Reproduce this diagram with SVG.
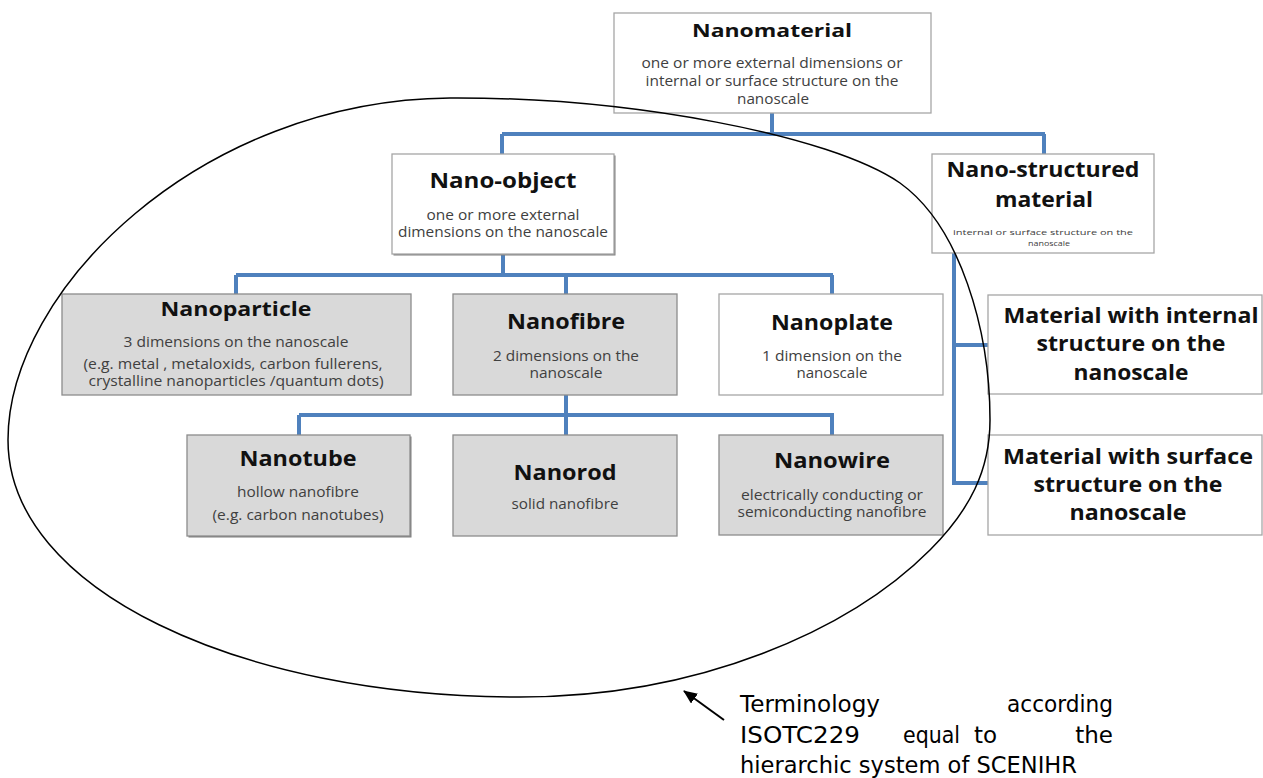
<svg xmlns="http://www.w3.org/2000/svg" width="1263" height="778" viewBox="0 0 1263 778">
<defs>
<style>
.bw{fill:#ffffff;stroke:#a6a6a6;stroke-width:1.3}
.bg{fill:#d9d9d9;stroke:#8c8c8c;stroke-width:1.3}
.sh{fill:#7f7f7f}
.t{font-family:"Open Sans","Liberation Sans",sans-serif;font-weight:bold;fill:#111;text-anchor:middle}
.s{font-family:"Open Sans","Liberation Sans",sans-serif;fill:#404040;text-anchor:middle;font-size:14px}
.c{fill:none;stroke:#4f81bd;stroke-width:4}
.a{font-family:"DejaVu Sans","Liberation Sans",sans-serif;font-size:23px;fill:#000}
</style>
<marker id="ah" markerWidth="14" markerHeight="12" refX="13" refY="6" orient="auto" markerUnits="userSpaceOnUse">
<path d="M0,0 L14,6 L0,12 z" fill="#000"/>
</marker>
</defs>
<rect width="1263" height="778" fill="#fff"/>

<g id="connectors">
<path class="c" d="M772,113 V134 M502,134 H1045 M502,134 V154 M1044,134 V154"/>
<path class="c" d="M503,254 V275 M236,275 H833 M236,275 V294 M566,275 V294 M832,275 V294"/>
<path class="c" d="M566,395 V435 M299,415 H834 M299,415 V435 M832,415 V435"/>
<path class="c" d="M954,253 V483 H988 M954,345 H988"/>
</g>

<g id="nanomaterial">
<rect class="bw" x="614" y="13" width="317" height="100"/>
<text class="t" x="772" y="37" font-size="18" textLength="160" lengthAdjust="spacingAndGlyphs">Nanomaterial</text>
<text class="s" x="772" y="68" textLength="261" lengthAdjust="spacingAndGlyphs">one or more external dimensions or</text>
<text class="s" x="772" y="86" textLength="253" lengthAdjust="spacingAndGlyphs">internal or surface structure on the</text>
<text class="s" x="773" y="104" textLength="72" lengthAdjust="spacingAndGlyphs">nanoscale</text>
</g>

<g id="nano-object">
<rect class="sh" x="393.5" y="155.5" width="222" height="100"/>
<rect class="bw" x="392" y="154" width="222" height="100"/>
<text class="t" x="503" y="188" font-size="22" textLength="147" lengthAdjust="spacingAndGlyphs">Nano-object</text>
<text class="s" x="503" y="220" textLength="153" lengthAdjust="spacingAndGlyphs">one or more external</text>
<text class="s" x="503" y="237" textLength="210" lengthAdjust="spacingAndGlyphs">dimensions on the nanoscale</text>
</g>

<g id="nano-structured">
<rect class="bw" x="932" y="154" width="222" height="99"/>
<text class="t" x="1043" y="177" font-size="22" textLength="193" lengthAdjust="spacingAndGlyphs">Nano-structured</text>
<text class="t" x="1044" y="207" font-size="22" textLength="98" lengthAdjust="spacingAndGlyphs">material</text>
<text class="s" x="1043" y="235" style="font-size:8px" textLength="180" lengthAdjust="spacingAndGlyphs">internal or surface structure on the</text>
<text class="s" x="1049" y="246" style="font-size:8px" textLength="42" lengthAdjust="spacingAndGlyphs">nanoscale</text>
</g>

<g id="nanoparticle">
<rect class="bg" x="62" y="294" width="349" height="101"/>
<text class="t" x="236" y="316" font-size="20" textLength="151" lengthAdjust="spacingAndGlyphs">Nanoparticle</text>
<text class="s" x="236" y="347" textLength="225" lengthAdjust="spacingAndGlyphs">3 dimensions on the nanoscale</text>
<text class="s" x="233" y="369" textLength="299" lengthAdjust="spacingAndGlyphs">(e.g. metal , metaloxids, carbon fullerens,</text>
<text class="s" x="236" y="386" textLength="295" lengthAdjust="spacingAndGlyphs">crystalline nanoparticles /quantum dots)</text>
</g>

<g id="nanofibre">
<rect class="bg" x="453" y="294" width="224" height="101"/>
<text class="t" x="566" y="329" font-size="22" textLength="118" lengthAdjust="spacingAndGlyphs">Nanofibre</text>
<text class="s" x="566" y="361" textLength="146" lengthAdjust="spacingAndGlyphs">2 dimensions on the</text>
<text class="s" x="566" y="378" textLength="73" lengthAdjust="spacingAndGlyphs">nanoscale</text>
</g>

<g id="nanoplate">
<rect class="bw" x="719" y="294" width="224" height="101"/>
<text class="t" x="832" y="330" font-size="22" textLength="122" lengthAdjust="spacingAndGlyphs">Nanoplate</text>
<text class="s" x="832" y="361" textLength="140" lengthAdjust="spacingAndGlyphs">1 dimension on the</text>
<text class="s" x="832" y="378" textLength="71" lengthAdjust="spacingAndGlyphs">nanoscale</text>
</g>

<g id="material-internal">
<rect class="bw" x="988" y="295" width="274" height="99"/>
<text class="t" x="1131" y="323" font-size="22" textLength="255" lengthAdjust="spacingAndGlyphs">Material with internal</text>
<text class="t" x="1131" y="351" font-size="22" textLength="189" lengthAdjust="spacingAndGlyphs">structure on the</text>
<text class="t" x="1131" y="380" font-size="22" textLength="115" lengthAdjust="spacingAndGlyphs">nanoscale</text>
</g>

<g id="nanotube">
<rect class="sh" x="188.5" y="436.5" width="223" height="101"/>
<rect class="bg" x="187" y="435" width="223" height="101"/>
<text class="t" x="298" y="466" font-size="22" textLength="117" lengthAdjust="spacingAndGlyphs">Nanotube</text>
<text class="s" x="298" y="497" textLength="122" lengthAdjust="spacingAndGlyphs">hollow nanofibre</text>
<text class="s" x="298" y="520" textLength="171" lengthAdjust="spacingAndGlyphs">(e.g. carbon nanotubes)</text>
</g>

<g id="nanorod">
<rect class="bg" x="453" y="435" width="224" height="101"/>
<text class="t" x="565" y="480" font-size="22" textLength="103" lengthAdjust="spacingAndGlyphs">Nanorod</text>
<text class="s" x="565" y="509" textLength="107" lengthAdjust="spacingAndGlyphs">solid nanofibre</text>
</g>

<g id="nanowire">
<rect class="bg" x="719" y="435" width="224" height="100"/>
<text class="t" x="832" y="468" font-size="22" textLength="116" lengthAdjust="spacingAndGlyphs">Nanowire</text>
<text class="s" x="832" y="500" textLength="182" lengthAdjust="spacingAndGlyphs">electrically conducting or</text>
<text class="s" x="832" y="517" textLength="189" lengthAdjust="spacingAndGlyphs">semiconducting nanofibre</text>
</g>

<g id="material-surface">
<rect class="bw" x="988" y="435" width="274" height="100"/>
<text class="t" x="1128" y="464" font-size="22" textLength="250" lengthAdjust="spacingAndGlyphs">Material with surface</text>
<text class="t" x="1128" y="492" font-size="22" textLength="189" lengthAdjust="spacingAndGlyphs">structure on the</text>
<text class="t" x="1128" y="520" font-size="22" textLength="117" lengthAdjust="spacingAndGlyphs">nanoscale</text>
</g>

<g id="ellipse">
<path d="M8,440 C8,290 200,100 450,98 C630,97 830,135 900,183 C960,226 990,330 990,420 C990,470 970,510 930,550 C850,630 700,697 520,697 C240,697 8,590 8,440 Z" fill="none" stroke="#000" stroke-width="1.5"/>
</g>

<g id="annotation">
<line x1="724" y1="720" x2="684" y2="691" stroke="#000" stroke-width="2" marker-end="url(#ah)"/>
<text class="a" x="740" y="712" textLength="140" lengthAdjust="spacingAndGlyphs">Terminology</text>
<text class="a" x="1113" y="712" text-anchor="end" textLength="106" lengthAdjust="spacingAndGlyphs">according</text>
<text class="a" x="740" y="743" textLength="120" lengthAdjust="spacingAndGlyphs">ISOTC229</text>
<text class="a" x="903" y="743" textLength="57" lengthAdjust="spacingAndGlyphs">equal</text>
<text class="a" x="974" y="743">to</text>
<text class="a" x="1113" y="743" text-anchor="end">the</text>
<text class="a" x="740" y="773" textLength="337" lengthAdjust="spacingAndGlyphs">hierarchic system of SCENIHR</text>
</g>
</svg>
